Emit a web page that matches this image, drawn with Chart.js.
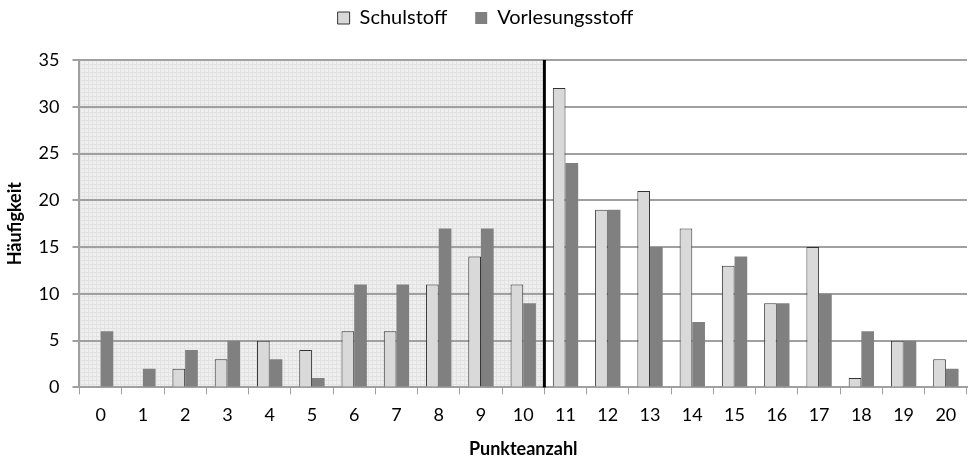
<!DOCTYPE html>
<html>
<head>
<meta charset="utf-8">
<script src="https://cdn.jsdelivr.net/npm/chart.js@4.4.0/dist/chart.umd.min.js"></script>
<style>
  body { margin: 0; background: #fff; }
  #wrap { width: 969px; height: 458px; }
</style>
</head>
<body>
<div id="wrap"><canvas id="punkte"></canvas></div>
<script>
const punkte = ['0','1','2','3','4','5','6','7','8','9','10','11','12','13','14','15','16','17','18','19','20'];
const schulstoff = [0, 0, 2, 3, 5, 4, 6, 6, 11, 14, 11, 32, 19, 21, 17, 13, 9, 15, 1, 5, 3];
const vorlesungsstoff = [6, 2, 4, 5, 3, 1, 11, 11, 17, 17, 9, 24, 19, 15, 7, 14, 9, 10, 6, 5, 2];
const grenze = 10; // last category in the shaded area

// fine grid texture like the original
function muster(ctx) {
    const c = document.createElement('canvas');
    c.width = 4; c.height = 4;
    const p = c.getContext('2d');
    p.fillStyle = '#efefef';
    p.fillRect(0, 0, 4, 4);
    p.fillStyle = '#e2e2e2';
    p.fillRect(0, 0, 4, 1);
    p.fillRect(0, 0, 1, 4);
    return ctx.createPattern(c, 'repeat');
}

// shaded background up to the pass mark, plus the black line
const bereich = {
    id: 'bereich',
    beforeInit(chart) {
        // wide gap between legend items but a short legend box
        const fit = chart.legend.fit;
        chart.legend.fit = function() {
            fit.call(this);
            this.height = 60;
        };
        const draw = chart.legend.draw;
        chart.legend.draw = function() {
            this.ctx.save();
            this.ctx.translate(0, -20);
            draw.call(this);
            this.ctx.restore();
        };
    },
    beforeDraw(chart) {
        const {ctx, chartArea, scales} = chart;
        const x = scales.x;
        const right = (x.getPixelForValue(grenze) + x.getPixelForValue(grenze + 1)) / 2;
        ctx.save();
        ctx.fillStyle = muster(ctx);
        ctx.fillRect(chartArea.left, chartArea.top, right - chartArea.left, chartArea.bottom - chartArea.top);
        ctx.restore();
    },
    afterDatasetsDraw(chart) {
        const {ctx, chartArea, scales} = chart;
        const x = scales.x;
        const right = (x.getPixelForValue(grenze) + x.getPixelForValue(grenze + 1)) / 2;
        ctx.save();
        ctx.strokeStyle = '#000';
        ctx.lineWidth = 3;
        ctx.beginPath();
        ctx.moveTo(right, chartArea.top);
        ctx.lineTo(right, chartArea.bottom);
        ctx.stroke();
        ctx.restore();
    }
};

Chart.defaults.font.family = 'Lato, "Open Sans", sans-serif';
Chart.defaults.color = '#000';

new Chart(document.getElementById('punkte'), {
    type: 'bar',
    data: {
        labels: punkte,
        datasets: [{
            label: 'Schulstoff',
            data: schulstoff,
            backgroundColor: '#d9d9d9',
            borderColor: '#333',
            borderWidth: 1
        }, {
            label: 'Vorlesungsstoff',
            data: vorlesungsstoff,
            backgroundColor: '#808080',
            borderColor: '#777',
            borderWidth: 0
        }]
    },
    options: {
        responsive: true,
        maintainAspectRatio: false,
        animation: false,
        layout: { padding: { left: 4, right: 2, top: 0, bottom: 0 } },
        datasets: {
            bar: { categoryPercentage: 0.6, barPercentage: 1.0, borderSkipped: 'bottom' }
        },
        scales: {
            x: {
                grid: {
                    offset: true,
                    drawOnChartArea: false,
                    tickLength: 7,
                    color: '#a0a0a0'
                },
                border: { color: '#a0a0a0', width: 2 },
                ticks: { font: { size: 18 }, padding: 10 },
                title: {
                    display: true,
                    text: 'Punkteanzahl',
                    font: { size: 18, weight: 'bold', lineHeight: 1 },
                    padding: { top: 4, bottom: 0 }
                }
            },
            y: {
                min: 0,
                max: 35,
                ticks: { stepSize: 5, font: { size: 18 }, padding: 13 },
                grid: { color: '#a0a0a0', lineWidth: 2, tickLength: 7 },
                border: { color: '#a0a0a0', width: 2 },
                title: {
                    display: true,
                    text: 'Häufigkeit',
                    font: { size: 18, weight: 'bold' },
                    padding: { top: 0, bottom: 0 }
                }
            }
        },
        plugins: {
            legend: {
                position: 'top',
                labels: {
                    boxWidth: 12,
                    boxHeight: 12,
                    font: { size: 20 },
                    padding: 28
                }
            },
            tooltip: { enabled: false }
        }
    },
    plugins: [bereich]
});
</script>
</body>
</html>
